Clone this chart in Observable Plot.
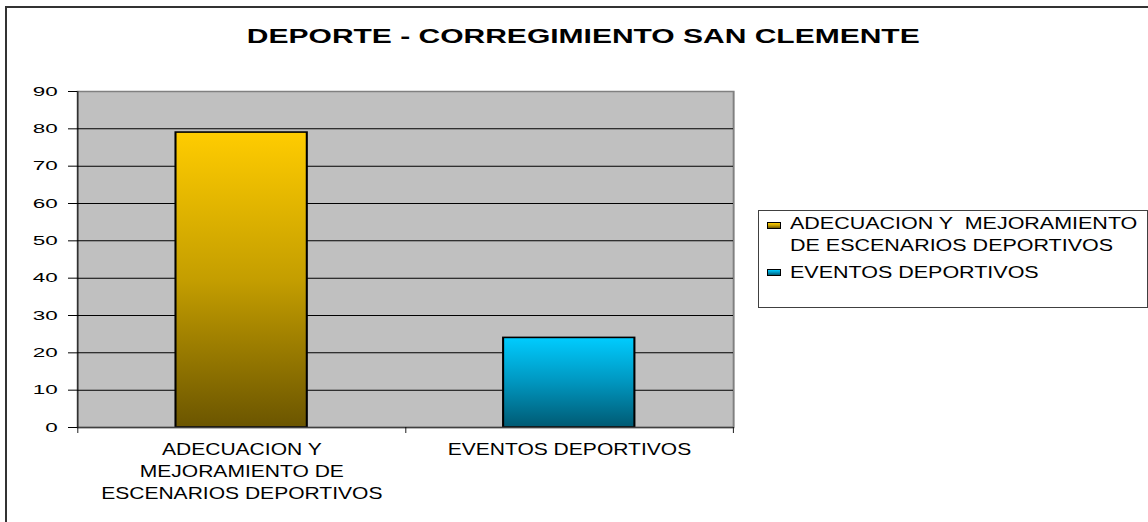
<!DOCTYPE html>
<html><head><meta charset="utf-8">
<script src="https://cdn.jsdelivr.net/npm/d3@7"></script>
<script src="https://cdn.jsdelivr.net/npm/@observablehq/plot@0.6"></script>
<style>
html,body{margin:0;padding:0;background:#fff;width:1148px;height:522px;overflow:hidden;}
#wrap{position:relative;width:1148px;height:522px;overflow:hidden;font-family:Arial,"Liberation Sans",sans-serif;color:#000;}
#outer{position:absolute;left:5px;top:6px;width:1200px;height:600px;border:2px solid #333;}
#chart{position:absolute;left:0;top:0;}
#title{position:absolute;left:0;width:1166px;top:26px;text-align:center;font-weight:bold;font-size:20px;line-height:20px;white-space:pre;}
#title span{display:inline-block;transform:scaleX(1.5);}
#legend{position:absolute;left:758px;top:210px;width:390px;height:98px;border:1px solid #404040;box-sizing:border-box;background:#fff;}
.key{position:absolute;left:8px;width:14px;height:7px;border:1px solid #000;box-sizing:border-box;}
.ltxt{position:absolute;left:31px;font-size:16.8px;line-height:21.5px;white-space:pre;transform:scaleX(1.28);transform-origin:0 0;}
</style>
</head><body>
<div id="wrap">
  <div id="outer"></div>
  <div id="chart"></div>
  <div id="title"><span></span></div>
  <div id="legend"></div>
</div>
<script>
// ---- data ----
const title = "DEPORTE - CORREGIMIENTO SAN CLEMENTE";
const categories = ["ADECUACION Y MEJORAMIENTO DE ESCENARIOS DEPORTIVOS", "EVENTOS DEPORTIVOS"];
const values = [79, 24];
const xTickLabels = ["ADECUACION Y\nMEJORAMIENTO DE\nESCENARIOS DEPORTIVOS", "EVENTOS DEPORTIVOS"];
const legendLabels = [["ADECUACION Y  MEJORAMIENTO", "DE ESCENARIOS DEPORTIVOS"], ["EVENTOS DEPORTIVOS"]];
const yTicks = [0, 10, 20, 30, 40, 50, 60, 70, 80, 90];
const gridTicks = [10, 20, 30, 40, 50, 60, 70, 80];
const gradientStops = [
  [["0%", "#FFCC00"], ["50%", "#C49E00"], ["100%", "#6B5500"]],
  [["0%", "#00CCFF"], ["50%", "#0096BF"], ["100%", "#005A73"]]
];

// ---- layout ----
const S = 1.3;            // horizontal stretch of the drawing
const FW = 750, FH = 522; // final svg size
const L = 77, R = 733, T = 91, B = 427;
const W = FW / S;
const step = (R - L) / categories.length / S;

const data = categories.map((c, i) => ({category: c, value: values[i], fill: `url(#grad${i})`}));

const chart = Plot.plot({
  width: W, height: FH,
  marginLeft: L / S, marginRight: (FW - R) / S, marginTop: T, marginBottom: FH - B,
  x: {domain: categories, paddingInner: 0.6, paddingOuter: 0.3},
  y: {domain: [0, 90]},
  color: {type: "identity"},
  style: {fontFamily: "Arial, 'Liberation Sans', sans-serif", color: "#000", background: "transparent", overflow: "visible"},
  marks: [
    Plot.frame({fill: "#c0c0c0", stroke: "#808080", strokeWidth: 1.5}),
    Plot.gridY(gridTicks, {stroke: "#000", strokeOpacity: 1, strokeWidth: 1}),
    Plot.barY(data, {x: "category", y: "value", fill: "fill", stroke: "#000", strokeWidth: 1.6}),
    Plot.ruleY([0], {stroke: "#404040", strokeWidth: 1.5}),
    Plot.ruleX(categories.slice(0, 1), {x: d => d, dx: -step / 2, stroke: "#000", strokeWidth: 1 / S, insetBottom: -6}),
    Plot.ruleX(categories, {x: d => d, dx: step / 2, y1: 0, y2: 0, insetBottom: -6, stroke: "#000", strokeWidth: 1 / S}),
    Plot.axisY(yTicks, {tickSize: 9 / S, tickPadding: 11 / S, fontSize: 13.5, label: null}),
    Plot.axisX({tickSize: 0, tickPadding: 12, fontSize: 16.2, lineHeight: 1.36, label: null,
      tickFormat: d => xTickLabels[categories.indexOf(d)]})
  ]
});

// wider digits on the y axis
chart.querySelectorAll('g[aria-label="y-axis tick label"] text').forEach(t => {
  t.setAttribute("transform", (t.getAttribute("transform") || "") + " scale(1.28,1)");
});

// gradients
const ns = "http://www.w3.org/2000/svg";
const defs = document.createElementNS(ns, "defs");
gradientStops.forEach((stops, i) => {
  const g = document.createElementNS(ns, "linearGradient");
  g.setAttribute("id", `grad${i}`);
  g.setAttribute("x1", "0"); g.setAttribute("y1", "0");
  g.setAttribute("x2", "0"); g.setAttribute("y2", "1");
  stops.forEach(([o, c]) => {
    const s = document.createElementNS(ns, "stop");
    s.setAttribute("offset", o); s.setAttribute("stop-color", c);
    g.appendChild(s);
  });
  defs.appendChild(g);
});
chart.insertBefore(defs, chart.firstChild);
chart.setAttribute("viewBox", `0 0 ${W} ${FH}`);
chart.setAttribute("preserveAspectRatio", "none");
chart.setAttribute("width", FW);
chart.setAttribute("height", FH);
chart.style.width = FW + "px";
chart.style.height = FH + "px";
chart.style.maxWidth = "none";
document.getElementById("chart").appendChild(chart);

// title
document.querySelector("#title span").textContent = title;

// legend
const legend = document.getElementById("legend");
const keyTops = [11, 58];
const textTops = [2, 51];
legendLabels.forEach((lines, i) => {
  const k = document.createElement("div");
  k.className = "key";
  k.style.top = keyTops[i] + "px";
  k.style.background = `linear-gradient(to bottom, ${gradientStops[i].map(([o, c]) => c + " " + o).join(", ")})`;
  legend.appendChild(k);
  const t = document.createElement("div");
  t.className = "ltxt";
  t.style.top = textTops[i] + "px";
  t.textContent = lines.join("\n");
  legend.appendChild(t);
});
</script>
</body></html>
